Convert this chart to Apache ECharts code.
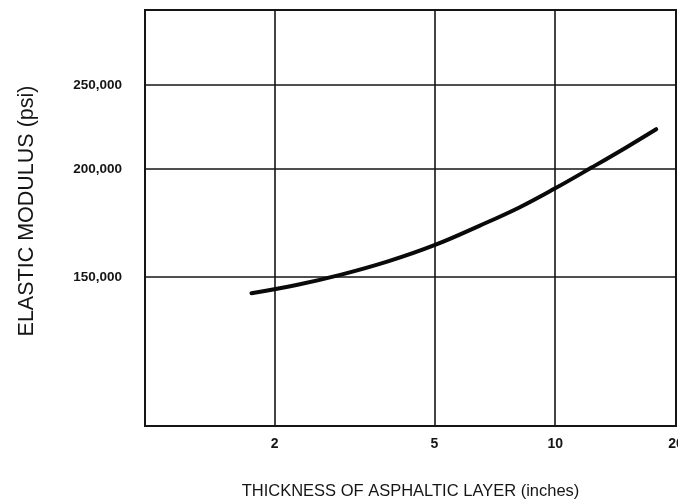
<!DOCTYPE html>
<html>
<head>
<meta charset="utf-8">
<title>Elastic modulus vs. asphaltic layer thickness</title>
<script src="https://cdn.jsdelivr.net/npm/echarts@6/dist/echarts.min.js"></script>
<style>
  html, body { margin: 0; padding: 0; background: #ffffff; }
  #chart { width: 678px; height: 503px; }
</style>
</head>
<body>
<div id="chart"></div>
<script>
// Thickness of the asphaltic layer (inches) along the curve
const thickness = [1.75, 2.28, 2.93, 3.83, 5.0, 6.45, 8.14, 10.0, 12.35, 15.1, 17.85];
// Elastic modulus (psi) at those thicknesses
const modulus = [143700, 147000, 151000, 156400, 163300, 171800, 180500, 189900, 200800, 212000, 222200];

// Tick values shown on each axis
const xTicks = [2, 5, 10, 20];
const xGridValues = [2, 5, 10];
const yTicks = [150000, 200000, 250000];

const labelFont = '"Liberation Sans", Arial, sans-serif';
const titleFont = '"Liberation Sans", Arial, sans-serif';
const ink = '#151515';

const chart = echarts.init(document.getElementById('chart'), null, { renderer: 'canvas' });

chart.setOption({
  backgroundColor: '#ffffff',
  animation: false,
  grid: {
    left: 145, top: 10, right: 2, bottom: 77,
    outerBoundsMode: 'none',
    containLabel: false,
    show: true, borderColor: ink, borderWidth: 2, backgroundColor: '#ffffff'
  },
  xAxis: {
    type: 'log',
    logBase: 10,
    min: 0.95,
    max: 20,
    name: 'THICKNESS OF ASPHALTIC LAYER (inches)',
    nameLocation: 'middle',
    nameGap: 57,
    nameTextStyle: { fontFamily: titleFont, fontSize: 16.5, color: ink },
    axisLine: { show: true, lineStyle: { color: ink, width: 2 } },
    axisTick: { show: false, customValues: xGridValues },
    axisLabel: {
      customValues: xTicks,
      margin: 11,
      hideOverlap: false,
      fontFamily: labelFont, fontWeight: 'bold', fontSize: 14, color: ink,
      formatter: v => String(v)
    },
    splitLine: { show: true, lineStyle: { color: ink, width: 1.6 } },
    minorSplitLine: { show: false }
  },
  yAxis: {
    type: 'log',
    logBase: 10,
    min: 101000,
    max: 305000,
    name: 'ELASTIC MODULUS (psi)',
    nameLocation: 'middle',
    nameGap: 107,
    nameRotate: 90,
    nameTextStyle: { fontFamily: titleFont, fontSize: 21.5, color: ink, padding: [0, 0, 0, 14] },
    axisLine: { show: true, lineStyle: { color: ink, width: 2 } },
    axisTick: { show: false, customValues: yTicks },
    axisLabel: {
      customValues: yTicks,
      margin: 23,
      fontFamily: labelFont, fontWeight: 'bold', fontSize: 13.5, color: ink,
      formatter: v => Math.round(v).toLocaleString('en-US')
    },
    splitLine: { show: true, lineStyle: { color: ink, width: 1.6 } }
  },
  series: [{
    type: 'line',
    data: thickness.map((t, i) => [t, modulus[i]]),
    smooth: 0.4,
    showSymbol: false,
    lineStyle: { color: '#0a0a0a', width: 4, cap: 'round' }
  }]
});
</script>
</body>
</html>
